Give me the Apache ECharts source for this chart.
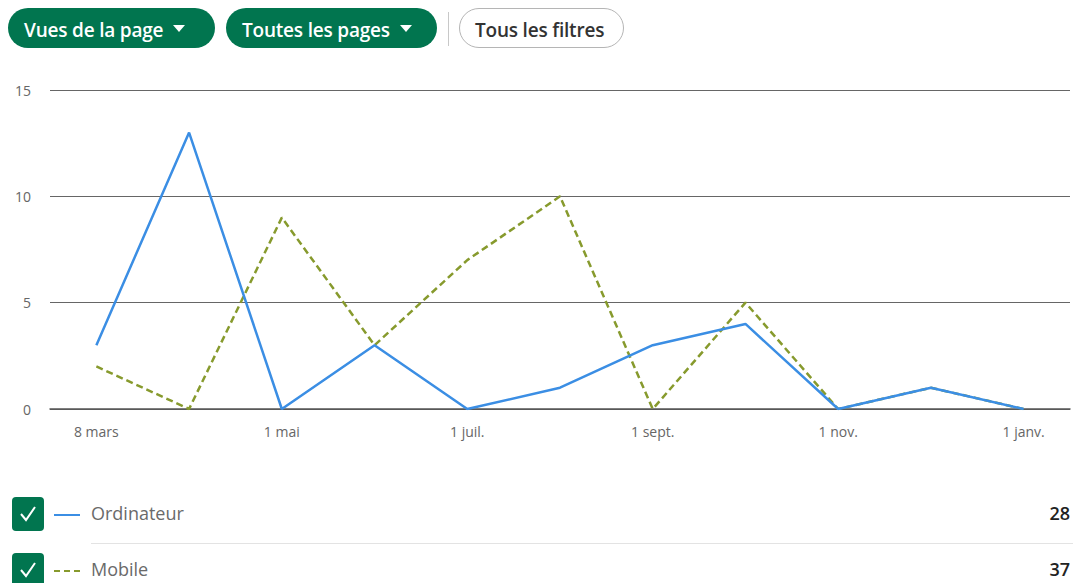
<!DOCTYPE html>
<html><head><meta charset="utf-8">
<script src="https://cdn.jsdelivr.net/npm/echarts@6/dist/echarts.min.js"></script>
<style>
html,body{margin:0;padding:0;background:#fff;width:1073px;height:583px;overflow:hidden;font-family:"Open Sans","Noto Sans",sans-serif;}
#chart{position:absolute;left:0;top:0;width:1073px;height:583px;}
.btn{position:absolute;top:8px;height:40px;border-radius:20px;box-sizing:border-box;display:flex;align-items:center;font-size:19px;font-weight:600;letter-spacing:-0.2px;padding-top:3px !important;}
.green{background:#01754f;color:#fff;padding:0 0 0 16px;}
.caret{display:inline-block;width:0;height:0;border-left:6px solid transparent;border-right:6px solid transparent;border-top:7px solid #fff;margin-left:10px;margin-top:-3px;}
.outline{border:1.5px solid #b5b5b5;color:#333;background:#fff;padding:0 15px;}
.div{position:absolute;left:448px;top:12px;width:1px;height:34px;background:#c8c8c8;}
.row{position:absolute;left:0;width:1073px;height:36px;}
.chk{position:absolute;left:12px;top:0;width:32px;height:34px;background:#01754f;border-radius:4px;}
.chk svg{position:absolute;left:6px;top:7px;}
.sample{position:absolute;left:54px;top:17px;width:26px;height:0;}
.lbl{position:absolute;left:91px;top:4px;font-size:18px;color:#6a6a6a;}
.val{position:absolute;right:3px;top:4px;font-size:18px;color:#222;font-weight:600;}
.sep{position:absolute;left:91px;top:543px;width:982px;height:1px;background:#e3e3e3;}
</style></head>
<body>
<div id="chart"></div>
<div class="btn green" style="left:8px;width:207px;">Vues de la page<span class="caret"></span></div>
<div class="btn green" style="left:226px;width:211px;">Toutes les pages<span class="caret"></span></div>
<div class="div"></div>
<div class="btn outline" style="left:459px;width:165px;">Tous les filtres</div>
<div id="legend"></div>
<div class="sep"></div>
<script>
const categories = ["8 mars","1 avr.","1 mai","1 juin","1 juil.","1 août","1 sept.","1 oct.","1 nov.","1 déc.","1 janv."];
const ordinateur = [3,13,0,3,0,1,3,4,0,1,0];
const mobile = [2,0,9,3,7,10,0,5,0,1,0];
const yTicks = [0,5,10,15];
const seriesNames = ["Ordinateur","Mobile"];
const blue = "#3b8ee4", olive = "#879a2d";

const sum = a => a.reduce((s,v)=>s+v,0);
const legendDefs = [
  {name: seriesNames[0], total: sum(ordinateur), top: 497, style: "border-top:2px solid "+blue},
  {name: seriesNames[1], total: sum(mobile), top: 553, style: "border-top:2px dashed "+olive}
];
const leg = document.getElementById('legend');
legendDefs.forEach(d=>{
  const r = document.createElement('div');
  r.className='row'; r.style.top=d.top+'px';
  r.innerHTML = '<div class="chk"><svg width="20" height="20" viewBox="0 0 20 20"><path d="M3 10 L8 16 L17 3" fill="none" stroke="#fff" stroke-width="2"/></svg></div>'+
    '<div class="sample" style="'+d.style+'"></div><div class="lbl">'+d.name+'</div><div class="val">'+d.total+'</div>';
  leg.appendChild(r);
});

const chart = echarts.init(document.getElementById('chart'), null, {renderer:'svg'});
chart.setOption({
  animation:false,
  grid:{left:50,right:3,top:90,bottom:174,containLabel:false},
  xAxis:{type:'category',data:categories,boundaryGap:true,
    axisLine:{show:true,lineStyle:{color:'#555',width:1.5}},
    axisTick:{show:false},
    axisLabel:{interval:1,color:'#666',fontSize:14,margin:15,fontFamily:'Open Sans'}},
  yAxis:{type:'value',min:yTicks[0],max:yTicks[yTicks.length-1],interval:5,
    axisLine:{show:false},axisTick:{show:false},
    axisLabel:{color:'#666',fontSize:14,margin:19,fontFamily:'Open Sans'},
    splitLine:{lineStyle:{color:'#666',width:1.2}}},
  series:[
    {name:seriesNames[0],type:'line',data:ordinateur,symbol:'none',z:3,
      lineStyle:{color:blue,width:2.5}},
    {name:seriesNames[1],type:'line',data:mobile,symbol:'none',z:2,
      lineStyle:{color:olive,width:2.5,type:[7,4]}}
  ]
});
</script>
</body></html>
